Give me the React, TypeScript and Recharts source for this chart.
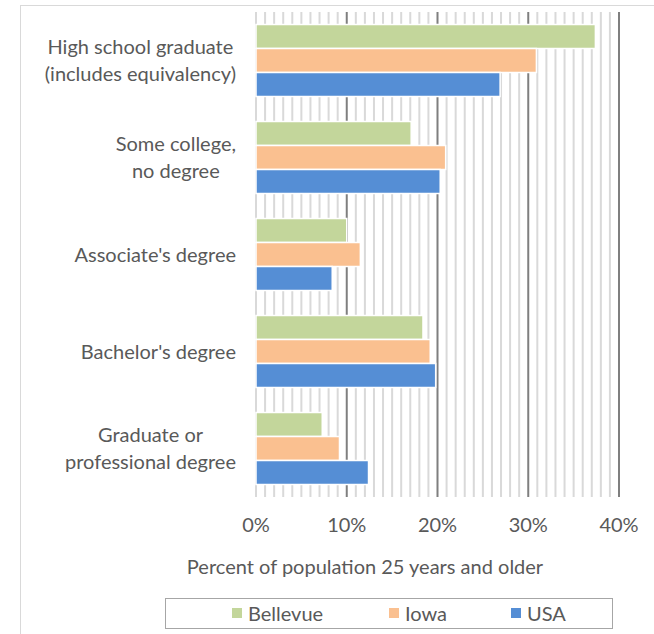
import React from 'react';
import { BarChart, Bar, XAxis, YAxis, CartesianGrid } from 'recharts';

const categories = [
  'High school graduate\n(includes equivalency)',
  'Some college,\nno degree',
  "Associate's degree",
  "Bachelor's degree",
  'Graduate or\nprofessional degree',
];
const bellevue = [37.4, 17.1, 10.0, 18.4, 7.3];
const iowa = [30.9, 20.9, 11.5, 19.2, 9.2];
const usa = [26.9, 20.3, 8.4, 19.8, 12.4];

const majorTicks = [0, 10, 20, 30, 40];
// light gridline every 1% (0 is light too in the original)
const minorTicks = Array.from({ length: 41 }, (_, i) => i).filter((v) => v === 0 || v % 10 !== 0);

const series = [
  { key: 'bellevue', name: 'Bellevue', color: '#C3D69B' },
  { key: 'iowa', name: 'Iowa', color: '#FAC090' },
  { key: 'usa', name: 'USA', color: '#558ED5' },
];

const data = categories.map((c, i) => ({
  category: c,
  bellevue: bellevue[i],
  iowa: iowa[i],
  usa: usa[i],
}));

const FONT = "Lato, sans-serif";
const SIZE = 20;
const TEXT = '#595959';

let ctx: CanvasRenderingContext2D | null = null;
function measure(s: string, size: number) {
  if (!ctx) ctx = document.createElement('canvas').getContext('2d');
  if (!ctx) return s.length * size * 0.5;
  ctx.font = `${size}px ${FONT}`;
  return ctx.measureText(s).width;
}

function scaleOf(axis: any) {
  const s = axis?.scale;
  return (v: number) => (typeof s === 'function' ? s(v) : s.map(v));
}

function CategoryTick(props: any) {
  const { x, y, payload } = props;
  const lines: string[] = String(payload.value).split('\n');
  const w = Math.max(...lines.map((l) => measure(l, SIZE)));
  const cx = x - 12 - w / 2;
  const lh = 27;
  const start = y - ((lines.length - 1) * lh) / 2;
  return (
    <text textAnchor="middle" fontFamily={FONT} fontSize={SIZE} fill={TEXT}>
      {lines.map((l, i) => (
        <tspan key={i} x={cx} y={start + i * lh} dy="0.35em">
          {l}
        </tspan>
      ))}
    </text>
  );
}

export default function App() {
  return (
    <div style={{ position: 'absolute', left: 0, top: 0, width: 654, height: 634, overflow: 'hidden', background: '#fff', fontFamily: FONT }}>
      <div style={{ position: 'absolute', left: 20, top: 5, width: 800, height: 800, border: '1px solid #d9d9d9' }} />
      <div style={{ position: 'absolute', left: 0, top: 0 }}>
        <BarChart
          width={654}
          height={634}
          data={data}
          layout="vertical"
          margin={{ top: 12, right: 35, bottom: 107, left: 20 }}
          barCategoryGap="13%"
          barGap={0}
        >
          <CartesianGrid horizontal={false} stroke="#7f7f7f" strokeWidth={2} />
          <CartesianGrid
            horizontal={false}
            stroke="#d9d9d9"
            strokeWidth={2}
            verticalCoordinatesGenerator={({ xAxis }: any) => minorTicks.map(scaleOf(xAxis))}
          />
          <XAxis
            type="number"
            domain={[0, 40]}
            ticks={majorTicks}
            tickFormatter={(v) => `${v}%`}
            axisLine={false}
            tickLine={false}
            tickMargin={15}
            height={30}
            tick={{ fill: TEXT, fontSize: SIZE, fontFamily: FONT }}
          />
          <YAxis
            type="category"
            dataKey="category"
            width={236}
            axisLine={false}
            tickLine={false}
            tick={<CategoryTick />}
            interval={0}
          />
          {series.map((s) => (
            <Bar key={s.key} dataKey={s.key} name={s.name} fill={s.color} stroke="#fff" strokeWidth={1.5} isAnimationActive={false} />
          ))}
        </BarChart>
      </div>
      <div style={{ position: 'absolute', left: 0, width: 730, top: 554, textAlign: 'center', fontSize: SIZE, color: TEXT }}>
        Percent of population 25 years and older
      </div>
      <div
        style={{
          position: 'absolute',
          left: 165,
          top: 598,
          width: 448,
          height: 31,
          border: '1px solid #a6a6a6',
          boxSizing: 'border-box',
          fontSize: SIZE,
          color: TEXT,
        }}
      >
        {series.map((s, i) => (
          <div key={s.key} style={{ position: 'absolute', left: [66, 223, 345][i], top: 2, display: 'flex', alignItems: 'center' }}>
            <span style={{ display: 'inline-block', width: 10, height: 10, background: s.color, marginRight: 6 }} />
            <span>{s.name}</span>
          </div>
        ))}
      </div>
    </div>
  );
}
